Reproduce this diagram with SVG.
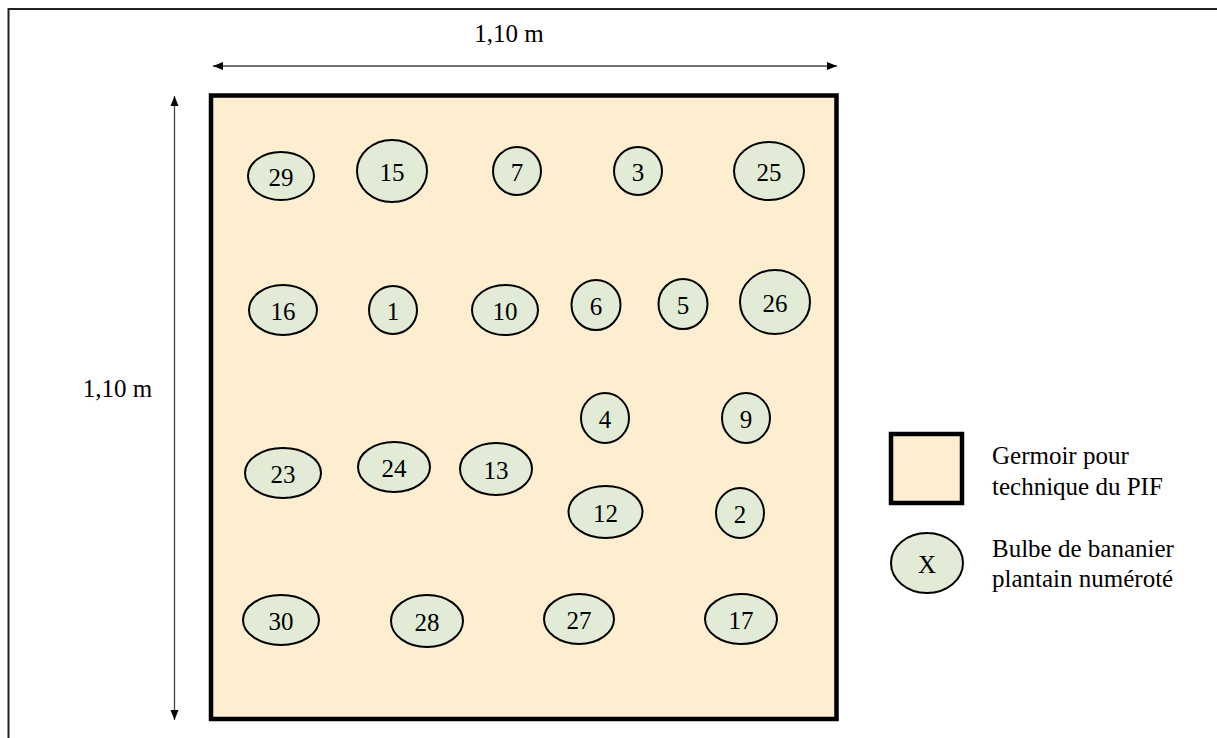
<svg xmlns="http://www.w3.org/2000/svg" width="1217" height="738" viewBox="0 0 1217 738" font-family="'Liberation Serif', 'DejaVu Serif', serif">
<style>
text{font-family:'Liberation Serif','DejaVu Serif',serif;font-size:25px;fill:#000}
.n{text-anchor:middle;dominant-baseline:central}
.b{fill:#E2EBD6;stroke:#000;stroke-width:2}
.dim{stroke:#444;stroke-width:1.3;fill:none}
</style>
<defs>
<marker id="ah" viewBox="0 0 10 10" refX="10" refY="5" markerWidth="10" markerHeight="10" markerUnits="userSpaceOnUse" orient="auto-start-reverse">
<path d="M0,1 L10,5 L0,9 Z" fill="#000"/>
</marker>
</defs>
<rect width="1217" height="738" fill="#fff"/>
<rect x="8.5" y="9" width="1230" height="750" fill="none" stroke="#222" stroke-width="2"/>
<g id="germoir">
<rect x="211" y="95.5" width="625.5" height="623.5" fill="#FDEECF" stroke="#000" stroke-width="4.5"/>
</g>
<g id="connectors">
<line class="dim" x1="213" y1="66" x2="837" y2="66" marker-start="url(#ah)" marker-end="url(#ah)"/>
<line class="dim" x1="174.5" y1="96" x2="174.5" y2="720" marker-start="url(#ah)" marker-end="url(#ah)"/>
</g>
<g id="labels">
<text class="n" x="509" y="33">1,10 m</text>
<text class="n" x="117.5" y="388">1,10 m</text>
</g>
<g id="b29"><ellipse class="b" cx="281" cy="176" rx="33" ry="24"/><text class="n" x="281" y="177">29</text></g>
<g id="b15"><ellipse class="b" cx="392" cy="171" rx="35" ry="31"/><text class="n" x="392" y="172">15</text></g>
<g id="b7"><ellipse class="b" cx="517" cy="171" rx="24" ry="24"/><text class="n" x="517" y="172">7</text></g>
<g id="b3"><ellipse class="b" cx="638" cy="171" rx="24" ry="24"/><text class="n" x="638" y="172">3</text></g>
<g id="b25"><ellipse class="b" cx="769" cy="171" rx="35" ry="29"/><text class="n" x="769" y="172">25</text></g>
<g id="b16"><ellipse class="b" cx="283" cy="310" rx="34" ry="25"/><text class="n" x="283" y="311">16</text></g>
<g id="b1"><ellipse class="b" cx="393" cy="310" rx="24" ry="24"/><text class="n" x="393" y="311">1</text></g>
<g id="b10"><ellipse class="b" cx="505" cy="310" rx="33" ry="25"/><text class="n" x="505" y="311">10</text></g>
<g id="b6"><ellipse class="b" cx="596" cy="305" rx="24.5" ry="25"/><text class="n" x="596" y="306">6</text></g>
<g id="b5"><ellipse class="b" cx="683" cy="304" rx="24.5" ry="25"/><text class="n" x="683" y="305">5</text></g>
<g id="b26"><ellipse class="b" cx="775" cy="302" rx="35" ry="32"/><text class="n" x="775" y="303">26</text></g>
<g id="b4"><ellipse class="b" cx="605" cy="418" rx="24" ry="25"/><text class="n" x="605" y="419">4</text></g>
<g id="b9"><ellipse class="b" cx="746" cy="418" rx="24" ry="25"/><text class="n" x="746" y="419">9</text></g>
<g id="b23"><ellipse class="b" cx="283" cy="473" rx="38" ry="25"/><text class="n" x="283" y="474">23</text></g>
<g id="b24"><ellipse class="b" cx="394" cy="467" rx="36" ry="25"/><text class="n" x="394" y="468">24</text></g>
<g id="b13"><ellipse class="b" cx="496" cy="469" rx="36" ry="26"/><text class="n" x="496" y="470">13</text></g>
<g id="b12"><ellipse class="b" cx="605.5" cy="512" rx="37" ry="26"/><text class="n" x="605.5" y="513">12</text></g>
<g id="b2"><ellipse class="b" cx="740" cy="513" rx="24" ry="25"/><text class="n" x="740" y="514">2</text></g>
<g id="b30"><ellipse class="b" cx="281" cy="620" rx="38" ry="25"/><text class="n" x="281" y="621">30</text></g>
<g id="b28"><ellipse class="b" cx="427" cy="621" rx="36" ry="26"/><text class="n" x="427" y="622">28</text></g>
<g id="b27"><ellipse class="b" cx="579" cy="619" rx="35" ry="25"/><text class="n" x="579" y="620">27</text></g>
<g id="b17"><ellipse class="b" cx="741" cy="619" rx="36" ry="25"/><text class="n" x="741" y="620">17</text></g>
<g id="legend">
<rect x="891" y="434" width="71" height="69" fill="#FDEECF" stroke="#000" stroke-width="4.5"/>
<text x="992" y="464">Germoir pour</text>
<text x="992" y="495">technique du PIF</text>
<ellipse class="b" cx="927" cy="563" rx="36" ry="30"/>
<text class="n" x="927" y="564">X</text>
<text x="992" y="557">Bulbe de bananier</text>
<text x="992" y="587">plantain numéroté</text>
</g>
</svg>
